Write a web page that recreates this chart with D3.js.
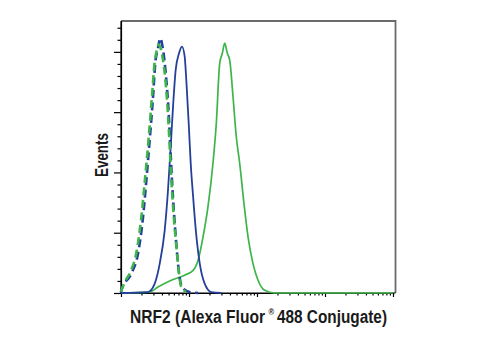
<!DOCTYPE html>
<html lang="en">
<head>
    <meta charset="UTF-8">
    <title>NRF2 flow histogram</title>
    <script src="https://cdn.jsdelivr.net/npm/d3@7"></script>
    <style>
        body { margin: 0; background: #fff; }
        .axis path, .axis line { fill: none; stroke: #000; stroke-width: 1.2; }
        .label { font-family: "Liberation Sans", Arial, sans-serif; font-weight: bold; font-size: 18px; fill: #1a1a1a; }
    </style>
</head>
<body>
<script>
    // fluorescence intensity (x) and events (y)
    const blueDashX = [1, 1.01, 1.42, 1.78, 2.11, 2.36, 2.64, 2.96, 3.19, 3.50, 3.78, 4.15, 4.64, 5.03, 5.31, 5.62, 6.02, 6.50, 7.06, 7.89, 10.2, 13.6];
    const blueDashY = [0, 1.1, 8.1, 16.4, 31.6, 46.8, 63.4, 81.4, 95.3, 101.5, 105.6, 100.8, 88.3, 74.5, 60.6, 46.8, 33.0, 20.5, 9.4, 2.5, 0.4, 0];

    const greenDashX = [1, 1.11, 1.36, 1.69, 2.00, 2.25, 2.54, 2.86, 3.11, 3.38, 3.58, 4.01, 4.51, 4.91, 5.22, 5.53, 5.92, 6.44, 7.01, 7.71, 9.03];
    const greenDashY = [0.5, 4, 8.5, 17, 32, 47, 63.5, 82, 95, 101, 103, 99, 88, 74, 60, 46, 33, 21, 10, 2.5, 0.5];

    const blueX = [1, 2.49, 3.13, 3.71, 4.39, 4.91, 5.38, 5.82, 6.37, 7.13, 7.89, 8.64, 9.13, 9.90, 10.6, 11.5, 12.6, 14.4, 17.0, 21.3, 30];
    const blueY = [0, 0.4, 3.9, 12.2, 26.0, 42.6, 60.6, 77.2, 92.5, 99.4, 102.2, 98.0, 88.3, 70.3, 53.7, 39.9, 26.0, 12.2, 3.9, 0.4, 0];

    const greenX = [1, 2.64, 3.50, 5.49, 8.64, 11.5, 13.6, 16.1, 19.0, 22.5, 25.2, 28.3, 30.9, 33.5, 36.6, 39.7, 44.4, 49.6, 55.7, 64.4, 73.8, 87.3, 103.5, 129.8, 182, 10000];
    const greenY = [0, 0.4, 2.5, 5.3, 7.4, 9.4, 13.6, 23.3, 35.7, 53.7, 70.3, 95.3, 99.4, 103.6, 99.4, 96.6, 81.4, 64.8, 53.7, 37.0, 23.3, 12.2, 5.3, 1.1, 0, 0];

    const xMajor = [1, 10, 100, 1000, 10000];
    const yMajor = [0, 25, 50, 75, 100];

    const W = 504, H = 339;
    const mLeft = 121, mRight = 393, mTop = 21, mBottom = 293;

    const svg = d3.select("body").append("svg")
        .attr("width", W)
        .attr("height", H);

    const x = d3.scaleLog().domain([1, 10000]).range([mLeft, mRight]);
    const y = d3.scaleLinear().domain([0, 112.8]).range([mBottom, mTop]);

    // minor ticks
    let xMinor = [];
    for (let i = 0; i < xMajor.length - 1; i++) {
        for (let k = 2; k <= 9; k++) xMinor.push(xMajor[i] * k);
    }
    let yMinor = d3.range(0, 111, 5).filter(d => d % 25 !== 0);

    /* frame top/right in grey */
    svg.append("path")
        .attr("d", `M${mLeft},${mTop} L${mRight + 2.5},${mTop} L${mRight + 2.5},${mBottom}`)
        .attr("fill", "none")
        .attr("stroke", "#6b6b6b")
        .attr("stroke-width", 1.8);

    // y axis
    svg.append("g").attr("class", "axis")
        .attr("transform", `translate(${mLeft},0)`)
        .call(d3.axisLeft(y).tickValues(yMinor).tickSize(3.5).tickSizeOuter(0).tickFormat(""));
    svg.append("g").attr("class", "axis")
        .attr("transform", `translate(${mLeft},0)`)
        .call(d3.axisLeft(y).tickValues(yMajor).tickSize(7).tickSizeOuter(0).tickFormat(""))
        .select(".domain").attr("d", `M0,${mTop}V${mBottom}`);

    // x axis
    svg.append("g").attr("class", "axis")
        .attr("transform", `translate(0,${mBottom})`)
        .call(d3.axisBottom(x).tickValues(xMinor).tickSize(2.5).tickSizeOuter(0).tickFormat(""));
    svg.append("g").attr("class", "axis")
        .attr("transform", `translate(0,${mBottom})`)
        .call(d3.axisBottom(x).tickValues(xMajor).tickSize(4).tickSizeOuter(0).tickFormat(""))
        .select(".domain").attr("d", `M${mLeft},0H${mRight + 2.5}`);

    const line = d3.line()
        .x(d => x(d[0]))
        .y(d => y(d[1]))
        .curve(d3.curveMonotoneX);

    const curves = [
        { xs: greenX, ys: greenY, color: "#3db54a", width: 1.7, dash: null },
        { xs: blueX, ys: blueY, color: "#24409a", width: 1.8, dash: null },
        { xs: blueDashX, ys: blueDashY, color: "#24409a", width: 2.6, dash: "8,4.5" },
        { xs: greenDashX, ys: greenDashY, color: "#3db54a", width: 2.6, dash: "8,4.5" }
    ];

    curves.forEach(c => {
        svg.append("path")
            .datum(d3.zip(c.xs, c.ys))
            .attr("d", line)
            .attr("fill", "none")
            .attr("stroke", c.color)
            .attr("stroke-width", c.width)
            .attr("stroke-dasharray", c.dash)
            .attr("stroke-linejoin", "round");
    });

    // labels (condensed by squeezing the glyphs)
    function label(xPos, yPos, len, str, size) {
        return svg.append("text")
            .attr("class", "label")
            .attr("x", xPos)
            .attr("y", yPos)
            .attr("textLength", len)
            .attr("lengthAdjust", "spacingAndGlyphs")
            .style("font-size", size ? size + "px" : null)
            .text(str);
    }
    label(130, 322.5, 135, "NRF2 (Alexa Fluor");
    label(268.5, 315, 5.5, "®", 9);
    label(277, 322.5, 110, "488 Conjugate)");

    svg.append("text")
        .attr("class", "label")
        .attr("transform", "translate(108,177) rotate(-90)")
        .attr("textLength", 44)
        .attr("lengthAdjust", "spacingAndGlyphs")
        .text("Events");
</script>
</body>
</html>
